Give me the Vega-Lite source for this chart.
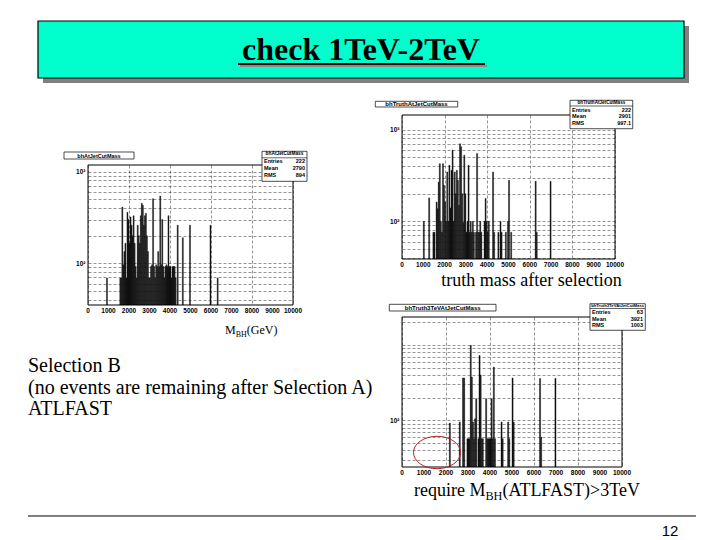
{
  "$schema": "https://vega.github.io/schema/vega-lite/v6.json",
  "background": "white",
  "padding": {"left": 27, "top": 20, "right": 5, "bottom": 2},
  "spacing": 16,
  "datasets": {
    "xticks": [{"v":0},{"v":1000},{"v":2000},{"v":3000},{"v":4000},{"v":5000},{"v":6000},{"v":7000},{"v":8000},{"v":9000},{"v":10000}]
  },
  "config": {
    "view": {"stroke": null},
    "text": {"font": "Liberation Sans", "color": "black"},
    "axis": {
      "labelFont": "Liberation Sans", "labelFontWeight": "bold", "labelFontSize": 6.5, "labelColor": "black",
      "ticks": false, "domain": false, "grid": true, "gridColor": "black", "gridDash": [3, 2],
      "gridOpacity": 0.6, "gridWidth": 0.7, "labelPadding": 3, "labelOverlap": false, "labelFlush": false
    }
  },
  "vconcat": [
    {
      "width": 608, "height": 62,
      "data": {"values": [{"t": "check 1TeV-2TeV"}]},
      "layer": [
        {"mark": {"type": "rect", "fill": "#808080"},
         "encoding": {"x": {"datum": -0.07401, "type": "quantitative", "scale": {"domain": [0, 1], "nice": false, "zero": false}, "axis": null}, "x2": {"datum": 0.98849},
                      "y": {"datum": 0.91935, "type": "quantitative", "scale": {"domain": [0, 1], "nice": false, "zero": false}, "axis": null}, "y2": {"datum": 0}}},
        {"mark": {"type": "rect", "fill": "#00FFCC", "stroke": "black", "strokeWidth": 1.2},
         "encoding": {"x": {"datum": -0.08224, "scale": {"domain": [0, 1], "nice": false, "zero": false}, "axis": null}, "x2": {"datum": 0.98026}, "y": {"datum": 1, "scale": {"domain": [0, 1], "nice": false, "zero": false}, "axis": null}, "y2": {"datum": 0.08065}}},
        {"mark": {"type": "rule", "color": "#8c8c8c", "strokeWidth": 2},
         "encoding": {"x": {"datum": 0.25, "scale": {"domain": [0, 1], "nice": false, "zero": false}, "axis": null}, "x2": {"datum": 0.6563}, "y": {"datum": 0.2742, "scale": {"domain": [0, 1], "nice": false, "zero": false}, "axis": null}}},
        {"mark": {"type": "text", "font": "Liberation Serif", "fontSize": 32, "fontWeight": "bold", "color": "black", "align": "center", "baseline": "alphabetic"},
         "encoding": {"x": {"datum": 0.44901, "scale": {"domain": [0, 1], "nice": false, "zero": false}, "axis": null}, "y": {"datum": 0.371, "scale": {"domain": [0, 1], "nice": false, "zero": false}, "axis": null}, "text": {"field": "t"}}},
        {"mark": {"type": "rule", "color": "black", "strokeWidth": 2},
         "encoding": {"x": {"datum": 0.2467, "scale": {"domain": [0, 1], "nice": false, "zero": false}, "axis": null}, "x2": {"datum": 0.653}, "y": {"datum": 0.3065, "scale": {"domain": [0, 1], "nice": false, "zero": false}, "axis": null}}}
      ]
    },
    {
      "concat": [
        {
          "width": 205, "height": 190,
          "layer": [
            {"data": {"values": [
              {"lo":900,"hi":950,"n":69},{"lo":1550,"hi":1600,"n":69},{"lo":1600,"hi":1650,"n":69},{"lo":1650,"hi":1700,"n":410},
              {"lo":1700,"hi":1750,"n":96},{"lo":1750,"hi":1800,"n":134},{"lo":1800,"hi":1850,"n":165},{"lo":1850,"hi":1900,"n":69},
              {"lo":1900,"hi":1950,"n":360},{"lo":1950,"hi":2000,"n":300},{"lo":2000,"hi":2050,"n":165},{"lo":2050,"hi":2100,"n":320},
              {"lo":2100,"hi":2150,"n":260},{"lo":2150,"hi":2200,"n":200},{"lo":2200,"hi":2250,"n":330},{"lo":2250,"hi":2300,"n":165},
              {"lo":2300,"hi":2350,"n":92},{"lo":2350,"hi":2400,"n":69},{"lo":2400,"hi":2450,"n":260},{"lo":2450,"hi":2500,"n":200},
              {"lo":2500,"hi":2550,"n":165},{"lo":2550,"hi":2600,"n":330},{"lo":2600,"hi":2650,"n":450},{"lo":2650,"hi":2700,"n":430},
              {"lo":2700,"hi":2750,"n":260},{"lo":2750,"hi":2800,"n":330},{"lo":2800,"hi":2850,"n":350},{"lo":2850,"hi":2900,"n":200},
              {"lo":2900,"hi":2950,"n":134},{"lo":2950,"hi":3000,"n":69},{"lo":3000,"hi":3050,"n":69},{"lo":3050,"hi":3100,"n":92},
              {"lo":3100,"hi":3150,"n":96},{"lo":3150,"hi":3200,"n":506},{"lo":3200,"hi":3250,"n":92},{"lo":3250,"hi":3300,"n":69},
              {"lo":3300,"hi":3350,"n":96},{"lo":3350,"hi":3400,"n":92},{"lo":3400,"hi":3450,"n":134},{"lo":3450,"hi":3500,"n":92},
              {"lo":3500,"hi":3550,"n":540},{"lo":3550,"hi":3600,"n":96},{"lo":3600,"hi":3650,"n":300},{"lo":3650,"hi":3700,"n":92},
              {"lo":3700,"hi":3750,"n":69},{"lo":3750,"hi":3800,"n":92},{"lo":3800,"hi":3850,"n":96},{"lo":3850,"hi":3900,"n":92},
              {"lo":3900,"hi":3950,"n":330},{"lo":3950,"hi":4000,"n":92},{"lo":4000,"hi":4050,"n":92},{"lo":4050,"hi":4100,"n":69},
              {"lo":4100,"hi":4150,"n":92},{"lo":4150,"hi":4200,"n":92},{"lo":4200,"hi":4250,"n":92},{"lo":4250,"hi":4300,"n":69},
              {"lo":4350,"hi":4400,"n":260},{"lo":4600,"hi":4650,"n":190},{"lo":4950,"hi":5000,"n":260},{"lo":5950,"hi":6000,"n":260},
              {"lo":6300,"hi":6350,"n":69}
             ]},
             "mark": {"type": "bar", "color": "#111111", "stroke": "#111111", "strokeWidth": 0.4, "clip": true},
             "encoding": {
               "x": {"field": "lo", "type": "quantitative", "scale": {"domain": [0, 10000], "nice": false, "zero": false},
                     "axis": {"values": [0,1000,2000,3000,4000,5000,6000,7000,8000,9000,10000], "labels": false, "title": null}},
               "x2": {"field": "hi"},
               "y": {"field": "n", "type": "quantitative", "stack": null, "scale": {"type": "log", "domain": [35, 4146], "nice": false},
                     "axis": {"values": [40,50,60,70,80,90,100,200,300,400,500,600,700,800,900,1000], "labelExpr": "datum.value == 100 ? '10²' : datum.value == 1000 ? '10³' : ''", "title": null}},
               "y2": {"datum": 35}
             }},
            {"data": {"values": [{}]}, "mark": {"type": "rect", "fill": "white"},
             "encoding": {"x": {"datum": -100, "scale": {"domain": [0, 10000], "nice": false, "zero": false}}, "x2": {"datum": 10100}, "y": {"datum": 1190, "scale": {"type": "log", "domain": [35, 4146], "nice": false}}, "y2": {"datum": 4146}}},
            {"data": {"values": [{}]}, "mark": {"type": "rect", "fillOpacity": 0, "stroke": "black", "strokeWidth": 1},
             "encoding": {"x": {"datum": 0, "scale": {"domain": [0, 10000], "nice": false, "zero": false}}, "x2": {"datum": 10000}, "y": {"datum": 35, "scale": {"type": "log", "domain": [35, 4146], "nice": false}}, "y2": {"datum": 1180}}},
            {"data": {"name": "xticks"}, "mark": {"type": "text", "fontSize": 6.5, "fontWeight": "bold", "align": "center", "baseline": "top"},
             "encoding": {"x": {"field": "v", "type": "quantitative", "scale": {"domain": [0, 10000], "nice": false, "zero": false}}, "y": {"datum": 32.5, "scale": {"type": "log", "domain": [35, 4146], "nice": false}}, "text": {"field": "v", "type": "quantitative", "format": "d"}}},
            {"data": {"values": [{}]}, "mark": {"type": "rect", "fill": "white", "stroke": "black", "strokeWidth": 0.7},
             "encoding": {"x": {"datum": -1171, "scale": {"domain": [0, 10000], "nice": false, "zero": false}}, "x2": {"datum": 2244}, "y": {"datum": 1636, "scale": {"type": "log", "domain": [35, 4146], "nice": false}}, "y2": {"datum": 1372}}},
            {"data": {"values": [{"t": "bhAtJetCutMass"}]}, "mark": {"type": "text", "fontSize": 5.5, "fontWeight": "bold", "align": "center", "baseline": "middle"},
             "encoding": {"x": {"datum": 536, "scale": {"domain": [0, 10000], "nice": false, "zero": false}}, "y": {"datum": 1498, "scale": {"type": "log", "domain": [35, 4146], "nice": false}}, "text": {"field": "t"}}},
            {"data": {"values": [{}]}, "mark": {"type": "rect", "fill": "white", "stroke": "black", "strokeWidth": 0.7},
             "encoding": {"x": {"datum": 8488, "scale": {"domain": [0, 10000], "nice": false, "zero": false}}, "x2": {"datum": 10683}, "y": {"datum": 1665, "scale": {"type": "log", "domain": [35, 4146], "nice": false}}, "y2": {"datum": 783}}},
            {"data": {"values": [{"t": "bhAtJetCutMass"}]}, "mark": {"type": "text", "fontSize": 4.8, "fontWeight": "bold", "align": "center", "baseline": "middle"},
             "encoding": {"x": {"datum": 9585, "scale": {"domain": [0, 10000], "nice": false, "zero": false}}, "y": {"datum": 1537, "scale": {"type": "log", "domain": [35, 4146], "nice": false}}, "text": {"field": "t"}}},
            {"data": {"values": [{}]}, "mark": {"type": "rule", "color": "black", "strokeWidth": 0.6},
             "encoding": {"x": {"datum": 8488, "scale": {"domain": [0, 10000], "nice": false, "zero": false}}, "x2": {"datum": 10683}, "y": {"datum": 1414, "scale": {"type": "log", "domain": [35, 4146], "nice": false}}}},
            {"data": {"values": [{"l": "Entries\nMean\nRMS"}]}, "mark": {"type": "text", "fontSize": 5.5, "fontWeight": "bold", "align": "left", "baseline": "top", "lineBreak": "\n", "lineHeight": 7},
             "encoding": {"x": {"datum": 8585, "scale": {"domain": [0, 10000], "nice": false, "zero": false}}, "y": {"datum": 1372, "scale": {"type": "log", "domain": [35, 4146], "nice": false}}, "text": {"field": "l"}}},
            {"data": {"values": [{"v": "222\n2790\n894"}]}, "mark": {"type": "text", "fontSize": 5.5, "fontWeight": "bold", "align": "right", "baseline": "top", "lineBreak": "\n", "lineHeight": 7},
             "encoding": {"x": {"datum": 10585, "scale": {"domain": [0, 10000], "nice": false, "zero": false}}, "y": {"datum": 1372, "scale": {"type": "log", "domain": [35, 4146], "nice": false}}, "text": {"field": "v"}}},
            {"data": {"values": [{"a": "M"}]}, "mark": {"type": "text", "font": "Liberation Serif", "fontSize": 12, "align": "right", "baseline": "alphabetic"},
             "encoding": {"x": {"datum": 7205, "scale": {"domain": [0, 10000], "nice": false, "zero": false}}, "y": {"datum": 17.1, "scale": {"type": "log", "domain": [35, 4146], "nice": false}}, "text": {"field": "a"}}},
            {"data": {"values": [{"b": "BH"}]}, "mark": {"type": "text", "font": "Liberation Serif", "fontSize": 8, "align": "left", "baseline": "alphabetic", "dy": 3},
             "encoding": {"x": {"datum": 7205, "scale": {"domain": [0, 10000], "nice": false, "zero": false}}, "y": {"datum": 17.1, "scale": {"type": "log", "domain": [35, 4146], "nice": false}}, "text": {"field": "b"}}},
            {"data": {"values": [{"c": "(GeV)"}]}, "mark": {"type": "text", "font": "Liberation Serif", "fontSize": 12, "align": "left", "baseline": "alphabetic"},
             "encoding": {"x": {"datum": 7746, "scale": {"domain": [0, 10000], "nice": false, "zero": false}}, "y": {"datum": 17.1, "scale": {"type": "log", "domain": [35, 4146], "nice": false}}, "text": {"field": "c"}}}
          ]
        },
        {
          "width": 213, "height": 144,
          "layer": [
            {"data": {"values": [
              {"lo":1000,"hi":1050,"n":100},{"lo":1250,"hi":1300,"n":180},{"lo":1450,"hi":1500,"n":76},{"lo":1500,"hi":1550,"n":76},
              {"lo":1600,"hi":1650,"n":162},{"lo":1650,"hi":1700,"n":137},{"lo":1700,"hi":1750,"n":268},{"lo":1750,"hi":1800,"n":425},
              {"lo":1800,"hi":1850,"n":100},{"lo":1850,"hi":1900,"n":76},{"lo":1900,"hi":1950,"n":425},{"lo":1950,"hi":2000,"n":247},
              {"lo":2000,"hi":2050,"n":162},{"lo":2050,"hi":2100,"n":100},{"lo":2100,"hi":2150,"n":345},{"lo":2150,"hi":2200,"n":100},
              {"lo":2200,"hi":2250,"n":408},{"lo":2250,"hi":2300,"n":140},{"lo":2300,"hi":2350,"n":360},{"lo":2350,"hi":2400,"n":596},
              {"lo":2400,"hi":2450,"n":100},{"lo":2450,"hi":2500,"n":345},{"lo":2500,"hi":2550,"n":200},{"lo":2550,"hi":2600,"n":360},
              {"lo":2600,"hi":2650,"n":280},{"lo":2650,"hi":2700,"n":150},{"lo":2700,"hi":2750,"n":700},{"lo":2750,"hi":2800,"n":650},
              {"lo":2800,"hi":2850,"n":200},{"lo":2850,"hi":2900,"n":97},{"lo":2900,"hi":2950,"n":525},{"lo":2950,"hi":3000,"n":200},
              {"lo":3000,"hi":3050,"n":76},{"lo":3050,"hi":3100,"n":100},{"lo":3100,"hi":3150,"n":408},{"lo":3150,"hi":3200,"n":76},
              {"lo":3200,"hi":3250,"n":100},{"lo":3250,"hi":3300,"n":76},{"lo":3300,"hi":3350,"n":100},{"lo":3350,"hi":3400,"n":76},
              {"lo":3450,"hi":3500,"n":76},{"lo":3500,"hi":3550,"n":550},{"lo":3550,"hi":3600,"n":76},{"lo":3600,"hi":3650,"n":76},
              {"lo":3650,"hi":3700,"n":100},{"lo":3700,"hi":3750,"n":76},{"lo":3850,"hi":3900,"n":100},{"lo":3900,"hi":3950,"n":177},
              {"lo":3950,"hi":4000,"n":100},{"lo":4000,"hi":4050,"n":76},{"lo":4050,"hi":4100,"n":100},{"lo":4250,"hi":4300,"n":345},
              {"lo":4300,"hi":4350,"n":76},{"lo":4500,"hi":4550,"n":76},{"lo":4600,"hi":4650,"n":100},{"lo":4650,"hi":4700,"n":76},
              {"lo":4850,"hi":4900,"n":76},{"lo":4950,"hi":5000,"n":100},{"lo":5000,"hi":5050,"n":280},{"lo":5100,"hi":5150,"n":76},
              {"lo":6250,"hi":6300,"n":273},{"lo":6300,"hi":6350,"n":76},{"lo":6950,"hi":7000,"n":273}
             ]},
             "mark": {"type": "bar", "color": "#111111", "stroke": "#111111", "strokeWidth": 0.4, "clip": true},
             "encoding": {
               "x": {"field": "lo", "type": "quantitative", "scale": {"domain": [0, 10000], "nice": false, "zero": false},
                     "axis": {"values": [0,1000,2000,3000,4000,5000,6000,7000,8000,9000,10000], "labels": false, "title": null}},
               "x2": {"field": "hi"},
               "y": {"field": "n", "type": "quantitative", "stack": null, "scale": {"type": "log", "domain": [38.8, 1442], "nice": false},
                     "axis": {"values": [40,50,60,70,80,90,100,200,300,400,500,600,700,800,900,1000], "labelExpr": "datum.value == 100 ? '10²' : datum.value == 1000 ? '10³' : ''", "title": null}},
               "y2": {"datum": 38.8}
             }},
            {"data": {"values": [{}]}, "mark": {"type": "rect", "fillOpacity": 0, "stroke": "black", "strokeWidth": 1},
             "encoding": {"x": {"datum": 0, "scale": {"domain": [0, 10000], "nice": false, "zero": false}}, "x2": {"datum": 10000}, "y": {"datum": 38.8, "scale": {"type": "log", "domain": [38.8, 1442], "nice": false}}, "y2": {"datum": 1442}}},
            {"data": {"name": "xticks"}, "mark": {"type": "text", "fontSize": 6.5, "fontWeight": "bold", "align": "center", "baseline": "top"},
             "encoding": {"x": {"field": "v", "type": "quantitative", "scale": {"domain": [0, 10000], "nice": false, "zero": false}}, "y": {"datum": 35.97, "scale": {"type": "log", "domain": [38.8, 1442], "nice": false}}, "text": {"field": "v", "type": "quantitative", "format": "d"}}},
            {"data": {"values": [{}]}, "mark": {"type": "rect", "fill": "white", "stroke": "black", "strokeWidth": 0.7},
             "encoding": {"x": {"datum": -1254, "scale": {"domain": [0, 10000], "nice": false, "zero": false}}, "x2": {"datum": 2615}, "y": {"datum": 2034, "scale": {"type": "log", "domain": [38.8, 1442], "nice": false}}, "y2": {"datum": 1763}}},
            {"data": {"values": [{"t": "bhTruthAtJetCutMass"}]}, "mark": {"type": "text", "fontSize": 6, "fontWeight": "bold", "align": "center", "baseline": "middle"},
             "encoding": {"x": {"datum": 681, "scale": {"domain": [0, 10000], "nice": false, "zero": false}}, "y": {"datum": 1892, "scale": {"type": "log", "domain": [38.8, 1442], "nice": false}}, "text": {"field": "t"}}},
            {"data": {"values": [{}]}, "mark": {"type": "rect", "fill": "white", "stroke": "black", "strokeWidth": 0.7},
             "encoding": {"x": {"datum": 7888, "scale": {"domain": [0, 10000], "nice": false, "zero": false}}, "x2": {"datum": 10832}, "y": {"datum": 2086, "scale": {"type": "log", "domain": [38.8, 1442], "nice": false}}, "y2": {"datum": 1022}}},
            {"data": {"values": [{"t": "bhTruthAtJetCutMass"}]}, "mark": {"type": "text", "fontSize": 4.6, "fontWeight": "bold", "align": "center", "baseline": "middle"},
             "encoding": {"x": {"datum": 9362, "scale": {"domain": [0, 10000], "nice": false, "zero": false}}, "y": {"datum": 1950, "scale": {"type": "log", "domain": [38.8, 1442], "nice": false}}, "text": {"field": "t"}}},
            {"data": {"values": [{}]}, "mark": {"type": "rule", "color": "black", "strokeWidth": 0.6},
             "encoding": {"x": {"datum": 7888, "scale": {"domain": [0, 10000], "nice": false, "zero": false}}, "x2": {"datum": 10832}, "y": {"datum": 1808, "scale": {"type": "log", "domain": [38.8, 1442], "nice": false}}}},
            {"data": {"values": [{"l": "Entries\nMean\nRMS"}]}, "mark": {"type": "text", "fontSize": 5.5, "fontWeight": "bold", "align": "left", "baseline": "top", "lineBreak": "\n", "lineHeight": 6.3},
             "encoding": {"x": {"datum": 7982, "scale": {"domain": [0, 10000], "nice": false, "zero": false}}, "y": {"datum": 1719, "scale": {"type": "log", "domain": [38.8, 1442], "nice": false}}, "text": {"field": "l"}}},
            {"data": {"values": [{"v": "222\n2901\n997.1"}]}, "mark": {"type": "text", "fontSize": 5.5, "fontWeight": "bold", "align": "right", "baseline": "top", "lineBreak": "\n", "lineHeight": 6.3},
             "encoding": {"x": {"datum": 10752, "scale": {"domain": [0, 10000], "nice": false, "zero": false}}, "y": {"datum": 1719, "scale": {"type": "log", "domain": [38.8, 1442], "nice": false}}, "text": {"field": "v"}}},
            {"data": {"values": [{"t": "truth mass after selection"}]},
             "mark": {"type": "text", "font": "Liberation Serif", "fontSize": 18, "align": "center", "baseline": "alphabetic"},
             "encoding": {"x": {"datum": 6080, "scale": {"domain": [0, 10000], "nice": false, "zero": false}}, "y": {"datum": 19.7, "scale": {"type": "log", "domain": [38.8, 1442], "nice": false}}, "text": {"field": "t"}}}
          ]
        },
        {
          "width": 205, "height": 60,
          "data": {"values": [{"t": "Selection B\n(no events are remaining after Selection A)\nATLFAST"}]},
          "mark": {"type": "text", "font": "Liberation Serif", "fontSize": 20, "align": "left", "baseline": "top", "lineBreak": "\n", "lineHeight": 21.5, "color": "black"},
          "encoding": {
            "x": {"datum": -0.29268, "type": "quantitative", "scale": {"domain": [0, 1], "nice": false, "zero": false}, "axis": null},
            "y": {"datum": 0.35, "type": "quantitative", "scale": {"domain": [0, 1], "nice": false, "zero": false}, "axis": null},
            "text": {"field": "t"}
          }
        },
        {
          "width": 220, "height": 150,
          "layer": [
            {"data": {"values": [
              {"lo":2150,"hi":2200,"n":92},{"lo":2600,"hi":2650,"n":95},{"lo":2750,"hi":2800,"n":365},{"lo":2800,"hi":2850,"n":365},
              {"lo":2950,"hi":3000,"n":57},{"lo":3000,"hi":3050,"n":57},{"lo":3050,"hi":3100,"n":57},{"lo":3100,"hi":3150,"n":990},
              {"lo":3150,"hi":3200,"n":375},{"lo":3200,"hi":3250,"n":95},{"lo":3250,"hi":3300,"n":57},{"lo":3300,"hi":3350,"n":105},
              {"lo":3350,"hi":3400,"n":194},{"lo":3450,"hi":3500,"n":57},{"lo":3500,"hi":3550,"n":725},{"lo":3550,"hi":3600,"n":400},
              {"lo":3600,"hi":3650,"n":57},{"lo":3650,"hi":3700,"n":57},{"lo":3800,"hi":3850,"n":194},{"lo":3850,"hi":3900,"n":57},
              {"lo":3900,"hi":3950,"n":57},{"lo":3950,"hi":4000,"n":57},{"lo":4000,"hi":4050,"n":57},{"lo":4050,"hi":4100,"n":194},
              {"lo":4100,"hi":4150,"n":57},{"lo":4150,"hi":4200,"n":510},{"lo":4200,"hi":4250,"n":57},{"lo":4500,"hi":4550,"n":95},
              {"lo":4550,"hi":4600,"n":57},{"lo":4800,"hi":4850,"n":95},{"lo":4850,"hi":4900,"n":57},{"lo":5000,"hi":5050,"n":365},
              {"lo":5050,"hi":5100,"n":95},{"lo":6250,"hi":6300,"n":360},{"lo":6300,"hi":6350,"n":60},{"lo":6950,"hi":7000,"n":360}
             ]},
             "mark": {"type": "bar", "color": "#111111", "stroke": "#111111", "strokeWidth": 0.4, "clip": true},
             "encoding": {
               "x": {"field": "lo", "type": "quantitative", "scale": {"domain": [0, 10000], "nice": false, "zero": false},
                     "axis": {"values": [0,1000,2000,3000,4000,5000,6000,7000,8000,9000,10000], "labels": false, "title": null}},
               "x2": {"field": "hi"},
               "y": {"field": "n", "type": "quantitative", "stack": null, "scale": {"type": "log", "domain": [24, 2355], "nice": false},
                     "axis": {"values": [30,40,50,60,70,80,90,100,200,300,400,500,600,700,800,900,1000,2000], "labelExpr": "datum.value == 100 ? '10²' : ''", "title": null}},
               "y2": {"datum": 24}
             }},
            {"data": {"values": [{}]}, "mark": {"type": "rect", "fillOpacity": 0, "stroke": "black", "strokeWidth": 1},
             "encoding": {"x": {"datum": 0, "scale": {"domain": [0, 10000], "nice": false, "zero": false}}, "x2": {"datum": 10000}, "y": {"datum": 24, "scale": {"type": "log", "domain": [24, 2355], "nice": false}}, "y2": {"datum": 2355}}},
            {"data": {"name": "xticks"}, "mark": {"type": "text", "fontSize": 6.5, "fontWeight": "bold", "align": "center", "baseline": "top"},
             "encoding": {"x": {"field": "v", "type": "quantitative", "scale": {"domain": [0, 10000], "nice": false, "zero": false}}, "y": {"datum": 21.9, "scale": {"type": "log", "domain": [24, 2355], "nice": false}}, "text": {"field": "v", "type": "quantitative", "format": "d"}}},
            {"data": {"values": [{}]}, "mark": {"type": "rect", "fill": "white", "stroke": "black", "strokeWidth": 0.7},
             "encoding": {"x": {"datum": -577, "scale": {"domain": [0, 10000], "nice": false, "zero": false}}, "x2": {"datum": 4273}, "y": {"datum": 3472, "scale": {"type": "log", "domain": [24, 2355], "nice": false}}, "y2": {"datum": 2829}}},
            {"data": {"values": [{"t": "bhTruth3TeVAtJetCutMass"}]}, "mark": {"type": "text", "fontSize": 6, "fontWeight": "bold", "align": "center", "baseline": "middle"},
             "encoding": {"x": {"datum": 1848, "scale": {"domain": [0, 10000], "nice": false, "zero": false}}, "y": {"datum": 3130, "scale": {"type": "log", "domain": [24, 2355], "nice": false}}, "text": {"field": "t"}}},
            {"data": {"values": [{}]}, "mark": {"type": "rect", "fill": "white", "stroke": "black", "strokeWidth": 0.7},
             "encoding": {"x": {"datum": 8545, "scale": {"domain": [0, 10000], "nice": false, "zero": false}}, "x2": {"datum": 11058}, "y": {"datum": 3536, "scale": {"type": "log", "domain": [24, 2355], "nice": false}}, "y2": {"datum": 1568}}},
            {"data": {"values": [{"t": "bhTruth3TeVAtJetCutMass"}]}, "mark": {"type": "text", "fontSize": 4.2, "fontWeight": "bold", "align": "center", "baseline": "middle"},
             "encoding": {"x": {"datum": 9801, "scale": {"domain": [0, 10000], "nice": false, "zero": false}}, "y": {"datum": 3297, "scale": {"type": "log", "domain": [24, 2355], "nice": false}}, "text": {"field": "t"}}},
            {"data": {"values": [{}]}, "mark": {"type": "rule", "color": "black", "strokeWidth": 0.6},
             "encoding": {"x": {"datum": 8545, "scale": {"domain": [0, 10000], "nice": false, "zero": false}}, "x2": {"datum": 11058}, "y": {"datum": 3054, "scale": {"type": "log", "domain": [24, 2355], "nice": false}}}},
            {"data": {"values": [{"l": "Entries\nMean\nRMS"}]}, "mark": {"type": "text", "fontSize": 5.5, "fontWeight": "bold", "align": "left", "baseline": "top", "lineBreak": "\n", "lineHeight": 6.6},
             "encoding": {"x": {"datum": 8636, "scale": {"domain": [0, 10000], "nice": false, "zero": false}}, "y": {"datum": 2917, "scale": {"type": "log", "domain": [24, 2355], "nice": false}}, "text": {"field": "l"}}},
            {"data": {"values": [{"v": "63\n3921\n1003"}]}, "mark": {"type": "text", "fontSize": 5.5, "fontWeight": "bold", "align": "right", "baseline": "top", "lineBreak": "\n", "lineHeight": 6.6},
             "encoding": {"x": {"datum": 10953, "scale": {"domain": [0, 10000], "nice": false, "zero": false}}, "y": {"datum": 2917, "scale": {"type": "log", "domain": [24, 2355], "nice": false}}, "text": {"field": "v"}}},
            {"data": {"values": [{}]},
             "mark": {"type": "point", "shape": "M-1,0A1,0.69,0,1,1,1,0A1,0.69,0,1,1,-1,0Z", "size": 2209, "filled": false, "color": "#b3202a", "strokeWidth": 1, "opacity": 1},
             "encoding": {"x": {"datum": 1591, "scale": {"domain": [0, 10000], "nice": false, "zero": false}}, "y": {"datum": 37.4, "scale": {"type": "log", "domain": [24, 2355], "nice": false}}}},
            {"data": {"values": [{"a": "require M"}]}, "mark": {"type": "text", "font": "Liberation Serif", "fontSize": 18, "align": "right", "baseline": "alphabetic"},
             "encoding": {"x": {"datum": 3795, "scale": {"domain": [0, 10000], "nice": false, "zero": false}}, "y": {"datum": 10.04, "scale": {"type": "log", "domain": [24, 2355], "nice": false}}, "text": {"field": "a"}}},
            {"data": {"values": [{"b": "BH"}]}, "mark": {"type": "text", "font": "Liberation Serif", "fontSize": 12.2, "align": "left", "baseline": "alphabetic", "dy": 4},
             "encoding": {"x": {"datum": 3795, "scale": {"domain": [0, 10000], "nice": false, "zero": false}}, "y": {"datum": 10.04, "scale": {"type": "log", "domain": [24, 2355], "nice": false}}, "text": {"field": "b"}}},
            {"data": {"values": [{"c": "(ATLFAST)>3TeV"}]}, "mark": {"type": "text", "font": "Liberation Serif", "fontSize": 18, "align": "left", "baseline": "alphabetic"},
             "encoding": {"x": {"datum": 4563, "scale": {"domain": [0, 10000], "nice": false, "zero": false}}, "y": {"datum": 10.04, "scale": {"type": "log", "domain": [24, 2355], "nice": false}}, "text": {"field": "c"}}},
            {"data": {"values": [{}]}, "mark": {"type": "rule", "color": "black", "strokeWidth": 1},
             "encoding": {"x": {"datum": -16998, "scale": {"domain": [0, 10000], "nice": false, "zero": false}}, "x2": {"datum": 13362}, "y": {"datum": 5.366, "scale": {"type": "log", "domain": [24, 2355], "nice": false}}}},
            {"data": {"values": [{"t": "12"}]}, "mark": {"type": "text", "font": "Liberation Sans", "fontSize": 15, "align": "center", "baseline": "alphabetic"},
             "encoding": {"x": {"datum": 12181, "scale": {"domain": [0, 10000], "nice": false, "zero": false}}, "y": {"datum": 2.9, "scale": {"type": "log", "domain": [24, 2355], "nice": false}}, "text": {"field": "t"}}}
          ]
        }
      ],
      "columns": 2,
      "bounds": "flush",
      "align": "each",
      "spacing": {"row": 12, "column": 109}
    }
  ]
}
